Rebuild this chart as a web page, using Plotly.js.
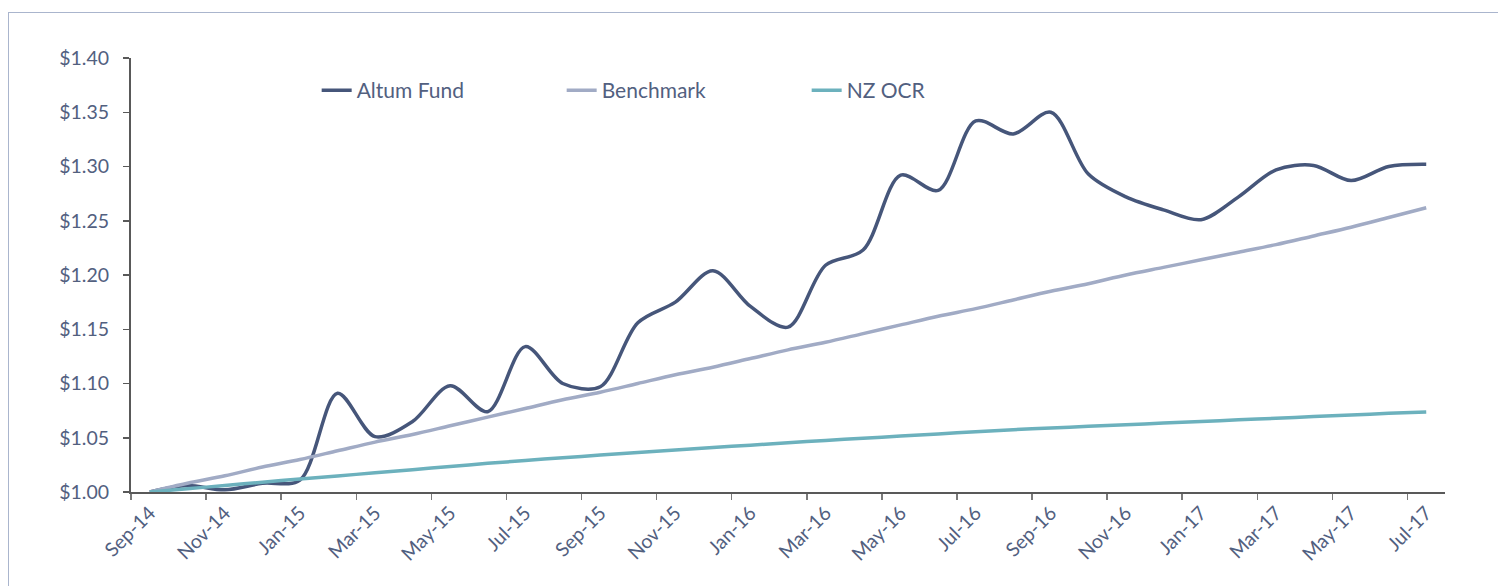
<!DOCTYPE html>
<html>
<head>
<meta charset="utf-8">
<script src="https://cdn.plot.ly/plotly-3.0.1.min.js"></script>
<style>
  html, body { margin:0; padding:0; background:#fff; overflow:hidden; }
  #frame { position:absolute; left:8px; top:12px; width:1700px; height:800px; border:1.5px solid #aab5cd; box-sizing:border-box; }
  #chart { position:absolute; left:0; top:0; width:1498px; height:586px; }
</style>
</head>
<body>
<div id="frame"></div>
<div id="chart"></div>
<script>
const months = ["Sep-14","Oct-14","Nov-14","Dec-14","Jan-15","Feb-15","Mar-15","Apr-15","May-15","Jun-15","Jul-15","Aug-15",
  "Sep-15","Oct-15","Nov-15","Dec-15","Jan-16","Feb-16","Mar-16","Apr-16","May-16","Jun-16","Jul-16","Aug-16",
  "Sep-16","Oct-16","Nov-16","Dec-16","Jan-17","Feb-17","Mar-17","Apr-17","May-17","Jun-17","Jul-17"];

const altumFund = [1.000,1.006,1.002,1.008,1.011,1.091,1.051,1.065,1.098,1.074,1.134,1.100,
  1.097,1.156,1.175,1.204,1.171,1.152,1.209,1.223,1.292,1.278,1.342,1.330,
  1.350,1.293,1.272,1.260,1.251,1.272,1.297,1.301,1.287,1.300,1.302];

const benchmark = [1.000,1.008,1.015,1.023,1.030,1.038,1.046,1.053,1.061,1.069,1.077,1.085,
  1.092,1.100,1.108,1.115,1.123,1.131,1.138,1.146,1.154,1.162,1.169,1.177,
  1.185,1.192,1.200,1.207,1.214,1.221,1.228,1.236,1.244,1.253,1.262];

const nzOcr = [1.000,1.003,1.006,1.009,1.012,1.0148,1.0177,1.0206,1.0235,1.0264,1.0290,1.0316,
  1.0340,1.0364,1.0388,1.0410,1.0432,1.0454,1.0475,1.0495,1.0515,1.0535,1.0555,1.0574,
  1.0590,1.0605,1.0620,1.0635,1.0650,1.0665,1.0680,1.0695,1.0710,1.0725,1.0738];

const seriesNames = ["Altum Fund","Benchmark","NZ OCR"];
const yTickVals = [1.00,1.05,1.10,1.15,1.20,1.25,1.30,1.35,1.40];
const yTickText = ["$1.00","$1.05","$1.10","$1.15","$1.20","$1.25","$1.30","$1.35","$1.40"];

const FONT = "Lato, 'Open Sans', sans-serif";
const TXT = "#52607f";

const traces = [
  {x: months, y: altumFund, name: seriesNames[0], type: "scatter", mode: "lines",
   line: {color: "#46567a", width: 3.5, shape: "spline", smoothing: 0.9}},
  {x: months, y: benchmark, name: seriesNames[1], type: "scatter", mode: "lines",
   line: {color: "#a1abc5", width: 3.5, shape: "spline", smoothing: 0.9}},
  {x: months, y: nzOcr, name: seriesNames[2], type: "scatter", mode: "lines",
   line: {color: "#6cb1bd", width: 3.5, shape: "spline", smoothing: 0.9}}
];

const layout = {
  width: 1498, height: 586,
  margin: {l: 131, r: 53, t: 58, b: 94},
  paper_bgcolor: "rgba(0,0,0,0)",
  plot_bgcolor: "rgba(0,0,0,0)",
  font: {family: FONT, color: TXT, size: 17},
  showlegend: true,
  legend: {orientation: "h", x: 0.1413, xanchor: "left", y: 0.925, yanchor: "middle",
           font: {family: FONT, size: 21, color: TXT}, entrywidth: 200, entrywidthmode: "pixels",
           bgcolor: "rgba(0,0,0,0)"},
  xaxis: {type: "category", range: [-0.5, 34.5], tickson: "boundaries", dtick: 2,
          tickangle: -45, ticks: "outside", ticklen: 6, tickwidth: 1.5, tickcolor: "#7a7a7a",
          showline: true, linecolor: "#595959", linewidth: 2, showgrid: false, zeroline: false,
          tickfont: {family: FONT, size: 19.5, color: TXT}, fixedrange: true},
  yaxis: {range: [1.0, 1.4], tickvals: yTickVals, ticktext: yTickText,
          ticks: "outside", ticklen: 6, tickwidth: 1.5, tickcolor: "#595959",
          showline: true, linecolor: "#595959", linewidth: 2, showgrid: false, zeroline: false,
          ticklabelstandoff: 10,
          tickfont: {family: FONT, size: 19.5, color: TXT}, fixedrange: true}
};

Plotly.newPlot("chart", traces, layout, {displayModeBar: false, staticPlot: true});
</script>
</body>
</html>
